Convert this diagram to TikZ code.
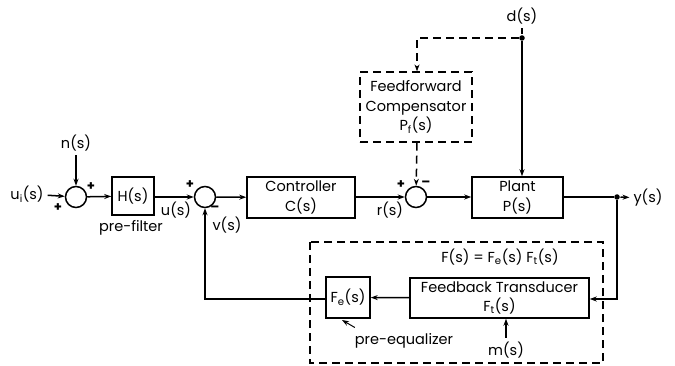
\documentclass[tikz,border=0pt]{standalone}
\usepackage{fontspec}
\setmainfont{Poppins}
\usetikzlibrary{arrows.meta}

\begin{document}
\begin{tikzpicture}[x=1pt, y=-1pt, line width=1.5pt,
    >={Stealth[length=7pt,width=5pt]},
    every node/.style={font=\fontsize{14.5}{19.5}\selectfont},
    blk/.style={draw, align=center, inner sep=0pt},
    sumpt/.style={draw, circle, minimum size=21pt, inner sep=0pt},
    dashln/.style={dash pattern=on 8pt off 5pt},
    sgn/.style={font=\fontsize{13}{13}\selectfont\bfseries, inner sep=0pt},
    jdot/.style={circle, fill, inner sep=0pt, minimum size=5.5pt}]
  \useasboundingbox (0,0) rectangle (675,366);

  % input side
  \node (ui) at (27,194) {u\textsubscript{i}(s)};
  \node (sumA) [sumpt] at (76,197) {};
  \node (nin) at (76,143) {n(s)};
  \node[sgn] at (91,187) {+};
  \node[sgn] at (58,208) {+};
  \node (pre) [blk, minimum width=42pt, minimum height=38pt] at (133,196) {H(s)};
  \node (prelbl) at (131,228) {pre-filter};
  \node (ulbl) at (176,210) {u(s)};

  \node (sumB) [sumpt] at (205,197) {};
  \node[sgn] at (190,185) {+};
  \node[sgn] at (215,209) {--};
  \node (vlbl) at (227,225) {v(s)};

  \node (ctrl) [blk, minimum width=108pt, minimum height=41pt] at (301,197.5) {Controller\\C(s)};
  \node (rlbl) at (390,210) {r(s)};

  \node (sumC) [sumpt] at (416,197) {};
  \node[sgn] at (401,185) {+};
  \node[sgn] at (426,184) {--};

  % feedforward path
  \node (ffc) [blk, dashln, line width=1.2pt, minimum width=112pt, minimum height=70pt] at (416,107)
    {Feedforward\\Compensator\\P\textsubscript{f}(s)};
  \node (dlbl) at (522,16) {d(s)};
  \node (djun) [jdot] at (522,38) {};
  \coordinate (ffin) at (417,38);

  \node (plant) [blk, minimum width=91pt, minimum height=41pt] at (517.5,197.5) {Plant\\P(s)};
  \node (yjun) [jdot] at (617,197) {};
  \node (ylbl) at (648,198) {y(s)};

  % feedback part
  \node (flbl) at (500,257) {F(s) = F\textsubscript{e}(s) F\textsubscript{t}(s)};
  \node (trans) [blk, minimum width=179pt, minimum height=40pt] at (499.5,298)
    {Feedback Transducer\\F\textsubscript{t}(s)};
  \node (feq) [blk, minimum width=44pt, minimum height=41pt] at (348,297.5) {F\textsubscript{e}(s)};
  \node (mlbl) at (506,350) {m(s)};
  \node (eqlbl) at (404,341) {pre-equalizer};
  \coordinate (ybend) at (617,299);
  \coordinate (vbend) at (205,299);
  \draw[dashln, line width=1.2pt] (310,242) rectangle (603,363);

  % connectors
  \draw[->] (ui) -- (sumA);
  \draw[->] (nin) -- (sumA);
  \draw[->] (sumA) -- (pre);
  \draw[->] (pre.east |- sumB) -- (sumB);
  \draw[->] (sumB) -- (ctrl);
  \draw[->] (ctrl.east |- sumC) -- (sumC);
  \draw[->] (sumC) -- (plant.west |- sumC);
  \draw[->] (dlbl) -- (djun) -- (plant.north -| djun);
  \draw[->, dashln] (djun) -- (ffin) -- (ffc.north -| ffin);
  \draw[->, dashln] (ffc.south -| ffin) -- (sumC);
  \draw (plant.east |- yjun) -- (yjun);
  \draw[->] (yjun) -- (ylbl);
  \draw[->] (yjun) -- (ybend) -- (trans.east |- ybend);
  \draw[->] (trans) -- (feq);
  \draw[->] (feq.west |- vbend) -- (vbend) -- (sumB);
  \draw[->] (mlbl) -- (trans.south -| mlbl);
  \draw[->, line width=1pt] (eqlbl.north west) ++(4,-2) -- (342,320);
\end{tikzpicture}
\end{document}
